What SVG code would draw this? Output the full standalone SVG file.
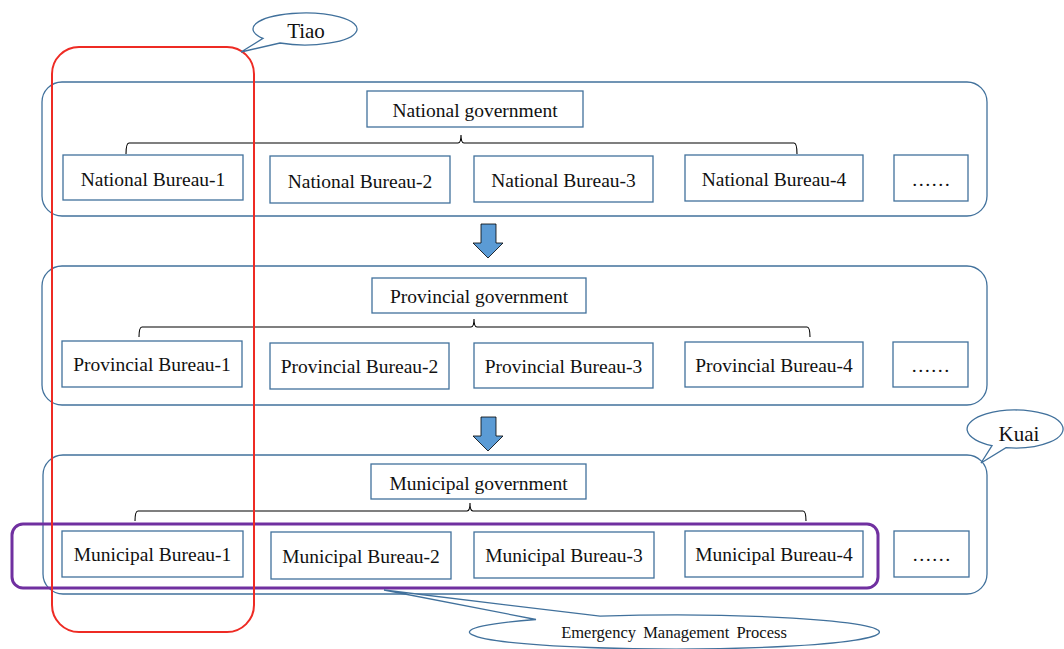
<svg xmlns="http://www.w3.org/2000/svg" width="1064" height="649" viewBox="0 0 1064 649">
<style>
  .cont{fill:none;stroke:#41719c;stroke-width:1.3}
  .box{fill:#fff;stroke:#41719c;stroke-width:1.3}
  .t{font-family:"Liberation Serif","Times New Roman",serif;font-size:19.5px;fill:#111;text-anchor:middle}
  .br{fill:none;stroke:#000;stroke-width:1.1}
  .arr{fill:#5b9bd5;stroke:#000;stroke-width:0.8}
  .call{fill:#fff;stroke:#41719c;stroke-width:1.3}
</style>
<rect width="1064" height="649" fill="#fff"/>

<g id="containers">
  <rect class="cont" x="42" y="82" width="945" height="134" rx="20"/>
  <rect class="cont" x="42" y="266" width="945" height="139" rx="20"/>
  <rect class="cont" x="43" y="455" width="944" height="139" rx="20"/>
</g>

<g id="connectors">
  <path class="br" d="M126,154 Q126,143 129,143 L458,143 Q461,143 461,135 Q461,143 464,143 L794,143 Q797,143 797,154"/>
  <path class="br" d="M139,337 Q139,327 142,327 L471,327 Q474,327 474,319 Q474,327 477,327 L807,327 Q810,327 810,337"/>
  <path class="br" d="M135,521 Q135,511 138,511 L467,511 Q470,511 470,503 Q470,511 473,511 L803,511 Q806,511 806,521"/>
  <path class="arr" d="M481,224 L496,224 L496,243 L503,243 L488,258 L473,243 L481,243 Z"/>
  <path class="arr" d="M481,417 L496,417 L496,436 L503,436 L488,451 L473,436 L481,436 Z"/>
</g>

<g id="national-government">
  <rect class="box" x="367" y="91" width="216" height="36"/>
  <text class="t" x="475" y="117">National government</text>
</g>
<g id="national-bureau-1"><rect class="box" x="63" y="155" width="180" height="45"/><text class="t" x="153" y="186">National Bureau-1</text></g>
<g id="national-bureau-2"><rect class="box" x="270" y="156" width="180" height="47"/><text class="t" x="360" y="188">National Bureau-2</text></g>
<g id="national-bureau-3"><rect class="box" x="474" y="156" width="179" height="46"/><text class="t" x="563.5" y="187">National Bureau-3</text></g>
<g id="national-bureau-4"><rect class="box" x="685" y="155" width="178" height="46"/><text class="t" x="774" y="186">National Bureau-4</text></g>
<g id="national-more"><rect class="box" x="894" y="155" width="74" height="46"/><text class="t" x="931" y="186">……</text></g>

<g id="provincial-government">
  <rect class="box" x="372" y="278" width="214" height="35"/>
  <text class="t" x="479" y="303">Provincial government</text>
</g>
<g id="provincial-bureau-1"><rect class="box" x="62" y="341" width="180" height="46"/><text class="t" x="152" y="371">Provincial Bureau-1</text></g>
<g id="provincial-bureau-2"><rect class="box" x="270" y="343" width="179" height="46"/><text class="t" x="359.5" y="373">Provincial Bureau-2</text></g>
<g id="provincial-bureau-3"><rect class="box" x="474" y="343" width="179" height="45"/><text class="t" x="563.5" y="373">Provincial Bureau-3</text></g>
<g id="provincial-bureau-4"><rect class="box" x="685" y="342" width="178" height="45"/><text class="t" x="774" y="372">Provincial Bureau-4</text></g>
<g id="provincial-more"><rect class="box" x="893" y="342" width="75" height="45"/><text class="t" x="930.5" y="372">……</text></g>

<g id="municipal-government">
  <rect class="box" x="371" y="464" width="215" height="35"/>
  <text class="t" x="478.5" y="490">Municipal government</text>
</g>
<g id="municipal-bureau-1"><rect class="box" x="62" y="531" width="181" height="46"/><text class="t" x="152.5" y="561">Municipal Bureau-1</text></g>
<g id="municipal-bureau-2"><rect class="box" x="271" y="532" width="180" height="47"/><text class="t" x="361" y="563">Municipal Bureau-2</text></g>
<g id="municipal-bureau-3"><rect class="box" x="474" y="532" width="180" height="46"/><text class="t" x="564" y="562">Municipal Bureau-3</text></g>
<g id="municipal-bureau-4"><rect class="box" x="685" y="531" width="178" height="46"/><text class="t" x="774" y="561">Municipal Bureau-4</text></g>
<g id="municipal-more"><rect class="box" x="894" y="531" width="75" height="46"/><text class="t" x="931.5" y="561">……</text></g>

<g id="kuai-highlight">
  <rect x="12" y="524" width="866" height="64" rx="11" fill="none" stroke="#7030a0" stroke-width="3"/>
</g>
<g id="tiao-highlight">
  <rect x="52" y="47" width="202" height="585" rx="27" fill="none" stroke="#ee2b24" stroke-width="2"/>
</g>

<g id="tiao-callout">
  <path class="call" d="M263,38.4 A52,16 0 1 1 280,43 L241,52 Z"/>
  <text class="t" x="306" y="38" style="font-size:21px">Tiao</text>
</g>
<g id="kuai-callout">
  <path class="call" d="M992,445.7 A48,19 0 1 1 1006,447.7 L981,463 Z"/>
  <text class="t" x="1019" y="441" style="font-size:21px">Kuai</text>
</g>
<g id="emp-callout">
  <path class="call" d="M600,616.2 A205,17 0 1 1 536,619.5 L384,590 Z"/>
  <text class="t" x="674" y="638" style="font-size:16.5px;word-spacing:3px">Emergency Management Process</text>
</g>
</svg>
